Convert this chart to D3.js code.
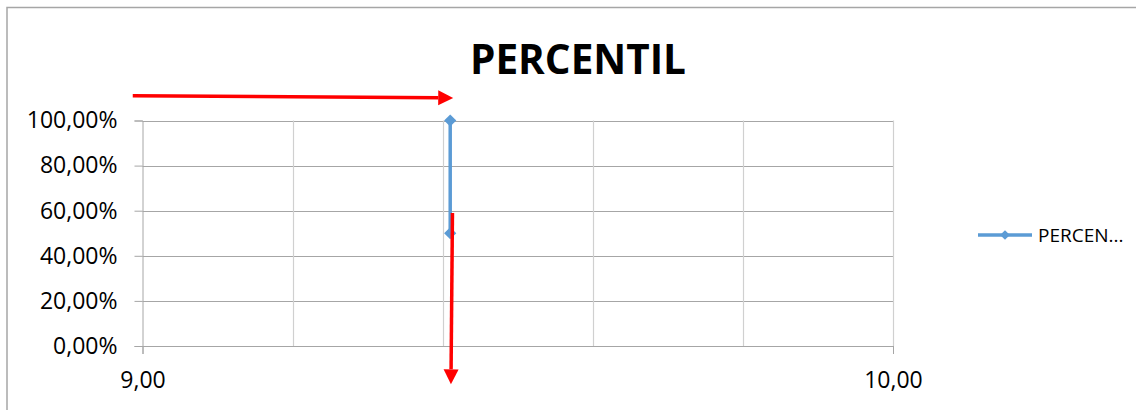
<!DOCTYPE html>
<html>
<head>
<meta charset="utf-8">
<script src="https://cdn.jsdelivr.net/npm/d3@7"></script>
<style>
  html, body { margin: 0; padding: 0; background: #fff; }
  svg { display: block; font-family: Lato, "Open Sans", "Liberation Sans", sans-serif; }
</style>
</head>
<body>
<svg id="chart" width="1136" height="410"></svg>
<script>
// Series: percentile reached at a given score
const seriesName = "PERCENTIL";
const legendLabel = "PERCEN...";
const xValues = [9.41, 9.41];
const yValues = [0.5, 1.0];

// Axis ticks
const xTicks = [9, 10];
const xGrid = [9.2, 9.4, 9.6, 9.8, 10];
const yTicks = [0, 0.2, 0.4, 0.6, 0.8, 1.0];

// Annotation arrows, in data units: horizontal one reads across to the point,
// vertical one drops down to the x axis
const arrowH = { x0: 8.987, y0: 1.11, x1: 9.414, y1: 1.10 };
const arrowV = { x0: 9.413, y0: 0.59, x1: 9.411, y1: -0.17 };

const svg = d3.select("#chart");
const margin = { left: 142.5, right: 243, top: 120.5, bottom: 64 };

const x = d3.scaleLinear().domain([9, 10]).range([margin.left, 893]);
const y = d3.scaleLinear().domain([0, 1]).range([346, 120.5]);

const labelFont = "'Open Sans', Lato, sans-serif";

// Chart frame
svg.append("path")
  .attr("d", "M7,410 L7,7.5 L1136,7.5")
  .attr("fill", "none").attr("stroke", "#a6a6a6").attr("stroke-width", 1.5);

// Title
svg.append("text")
  .attr("x", 578).attr("y", 74)
  .attr("text-anchor", "middle")
  .attr("font-family", labelFont)
  .attr("font-size", 40.5).attr("font-weight", "bold").attr("fill", "#000")
  .text(seriesName);

const grid = svg.append("g");
// Horizontal gridlines
grid.selectAll("line.h").data(yTicks).join("line")
  .attr("x1", x(9)).attr("x2", x(10))
  .attr("y1", d => Math.round(y(d)) + 0.5).attr("y2", d => Math.round(y(d)) + 0.5)
  .attr("stroke", "#a6a6a6").attr("stroke-width", 1);
// Vertical gridlines
grid.selectAll("line.v").data(xGrid).join("line")
  .attr("x1", d => Math.round(x(d)) + 0.5).attr("x2", d => Math.round(x(d)) + 0.5)
  .attr("y1", y(1)).attr("y2", y(0))
  .attr("stroke", "#d0d0d0").attr("stroke-width", 1.2);

// Y axis
const fmtPct = v => d3.format(".2f")(v * 100).replace(".", ",") + "%";
const yAxis = d3.axisLeft(y).tickValues(yTicks).tickSize(8).tickPadding(17).tickFormat(fmtPct);
const gy = svg.append("g").attr("transform", `translate(${margin.left},0)`).call(yAxis);
gy.select(".domain").attr("stroke", "#a6a6a6");
gy.selectAll(".tick line").attr("stroke", "#a6a6a6");
gy.selectAll(".tick text").attr("font-size", 23).attr("fill", "#000")
  .attr("font-family", labelFont);

// X axis
const fmtNum = v => d3.format(".2f")(v).replace(".", ",");
const xAxis = d3.axisBottom(x).tickValues(xTicks).tickSize(8).tickPadding(18).tickFormat(fmtNum);
const gx = svg.append("g").attr("transform", `translate(0,${y(0)})`).call(xAxis);
gx.select(".domain").attr("stroke", "#a6a6a6");
gx.selectAll(".tick line").attr("stroke", "#a6a6a6");
gx.selectAll(".tick text").attr("font-size", 23).attr("fill", "#000")
  .attr("font-family", labelFont);

// Series line and diamond markers
const pts = xValues.map((v, i) => [v, yValues[i]]);
svg.append("path")
  .datum(pts)
  .attr("d", d3.line().x(d => x(d[0])).y(d => y(d[1])))
  .attr("fill", "none").attr("stroke", "#5b9bd5").attr("stroke-width", 3.5);
const diamond = d3.symbol().type(d3.symbolDiamond2).size(95);
svg.selectAll("path.mk").data(pts).join("path")
  .attr("transform", d => `translate(${x(d[0])},${y(d[1])})`)
  .attr("d", diamond)
  .attr("fill", "#5b9bd5");

// Red arrows
function arrow(a) {
  const x0 = x(a.x0), y0 = y(a.y0), x1 = x(a.x1), y1 = y(a.y1);
  const ang = Math.atan2(y1 - y0, x1 - x0);
  const len = 15, half = 7.5;
  const bx = x1 - len * Math.cos(ang), by = y1 - len * Math.sin(ang);
  svg.append("line")
    .attr("x1", x0).attr("y1", y0).attr("x2", bx).attr("y2", by)
    .attr("stroke", "#ff0000").attr("stroke-width", 3.5);
  const px = -Math.sin(ang) * half, py = Math.cos(ang) * half;
  svg.append("path")
    .attr("d", `M${x1},${y1} L${bx + px},${by + py} L${bx - px},${by - py} Z`)
    .attr("fill", "#ff0000");
}
arrow(arrowH);
arrow(arrowV);

// Legend
const lg = svg.append("g").attr("transform", "translate(978,235)");
lg.append("line").attr("x1", 0).attr("x2", 54).attr("y1", 0).attr("y2", 0)
  .attr("stroke", "#5b9bd5").attr("stroke-width", 3.5);
lg.append("path").attr("transform", "translate(27,0)")
  .attr("d", d3.symbol().type(d3.symbolDiamond2).size(60)).attr("fill", "#5b9bd5");
lg.append("text").attr("x", 60).attr("y", 7)
  .attr("font-size", 19).attr("fill", "#000")
  .attr("font-family", labelFont)
  .text(legendLabel);
</script>
</body>
</html>
